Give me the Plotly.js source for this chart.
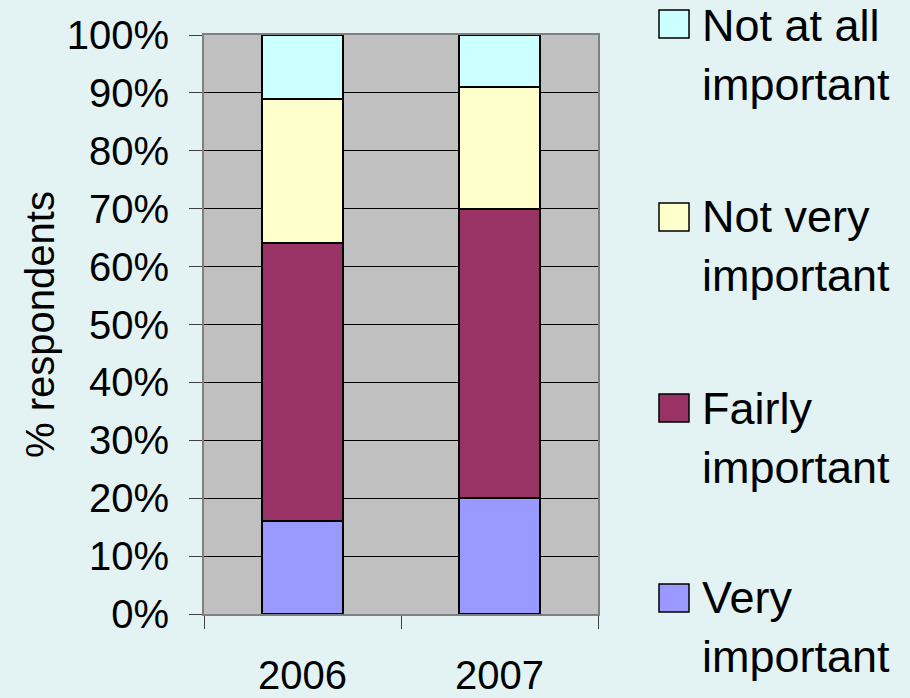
<!DOCTYPE html>
<html>
<head>
<meta charset="utf-8">
<script src="https://cdn.plot.ly/plotly-3.0.1.min.js"></script>
<style>html,body{margin:0;padding:0;background:#e3f3f3;}</style>
</head>
<body>
<div id="chart" style="width:910px;height:698px;"></div>
<script>
var years = ['2006', '2007'];
var seriesNames = ['Very<br>important', 'Fairly<br>important', 'Not very<br>important', 'Not at all<br>important'];
var veryImportant = [16, 20];
var fairlyImportant = [48, 50];
var notVeryImportant = [25, 21];
var notAtAllImportant = [11, 9];
var seriesValues = [veryImportant, fairlyImportant, notVeryImportant, notAtAllImportant];
var seriesColors = ['#9999ff', '#993366', '#ffffcc', '#ccffff'];
var yTickVals = [0, 10, 20, 30, 40, 50, 60, 70, 80, 90, 100];
var yTickText = ['0%', '10%', '20%', '30%', '40%', '50%', '60%', '70%', '80%', '90%', '100%'];

var traces = seriesValues.map(function (vals, i) {
  return {
    type: 'bar',
    name: seriesNames[i],
    x: years,
    y: vals,
    marker: {color: seriesColors[i], line: {color: '#000000', width: 2}},
    width: 0.41,
    hoverinfo: 'skip',
    showlegend: false
  };
});

// Legend drawn as layout annotations + swatch shapes (pixel positions converted to paper units)
var M = {l: 204, r: 312, t: 35, b: 84};
var W = 910, H = 698;
var pw = W - M.l - M.r, ph = H - M.t - M.b;
function px2x(px) { return (px - M.l) / pw; }
function py2y(py) { return (H - M.b - py) / ph; }
var legendTextCenters = [627, 438, 246, 55];   // pixel y of each entry's text block (Very..Not at all)
var legendSwatchCenters = [598, 408, 217, 24];
var annotations = [], shapes = [];
seriesNames.forEach(function (nm, i) {
  annotations.push({
    xref: 'paper', yref: 'paper',
    x: px2x(700), y: py2y(legendTextCenters[i]),
    xanchor: 'left', yanchor: 'middle', align: 'left',
    text: nm, showarrow: false,
    font: {family: 'Liberation Sans, Arial, sans-serif', size: 45, color: '#000000'}
  });
  shapes.push({
    type: 'rect', xref: 'paper', yref: 'paper',
    x0: px2x(659), x1: px2x(689),
    y0: py2y(legendSwatchCenters[i] + 14), y1: py2y(legendSwatchCenters[i] - 14),
    fillcolor: seriesColors[i], line: {color: '#000000', width: 1.5}
  });
});

var font = 'Liberation Sans, Arial, sans-serif';
var layout = {
  width: W, height: H,
  paper_bgcolor: '#e3f3f3',
  plot_bgcolor: '#c0c0c0',
  barmode: 'stack',
  margin: {l: M.l, r: M.r, t: M.t, b: M.b, pad: 0},
  font: {family: font, size: 40, color: '#000000'},
  showlegend: false,
  annotations: annotations,
  shapes: shapes,
  xaxis: {
    type: 'category',
    showgrid: false,
    ticks: 'outside', tickson: 'boundaries', ticklen: 13, tickcolor: '#404040', tickwidth: 1,
    ticklabelstandoff: 25,
    showline: true, linecolor: '#808080', linewidth: 2, mirror: true,
    tickfont: {family: font, size: 40, color: '#000000'},
    automargin: false,
    fixedrange: true
  },
  yaxis: {
    range: [0, 100],
    tickmode: 'array',
    tickvals: yTickVals,
    ticktext: yTickText,
    ticks: 'outside', ticklen: 13, tickcolor: '#404040', tickwidth: 1,
    ticklabelstandoff: 12,
    showgrid: true, gridcolor: '#000000', gridwidth: 1,
    zeroline: false,
    showline: true, linecolor: '#808080', linewidth: 2, mirror: true,
    tickfont: {family: font, size: 40, color: '#000000'},
    title: {text: '% respondents', font: {family: font, size: 40, color: '#000000'}, standoff: 0},
    automargin: true,
    fixedrange: true
  }
};

Plotly.newPlot('chart', traces, layout, {displayModeBar: false, staticPlot: true});
</script>
</body>
</html>
